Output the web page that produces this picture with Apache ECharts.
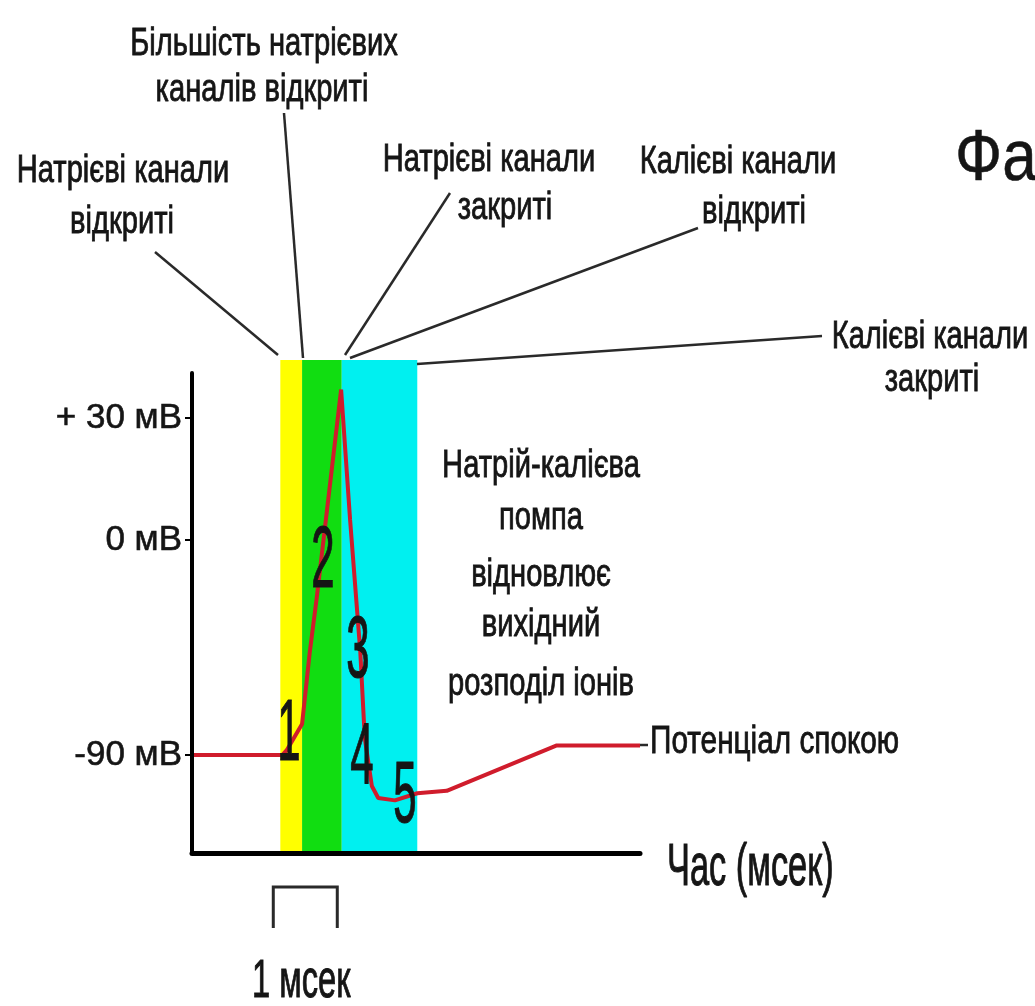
<!DOCTYPE html>
<html>
<head>
<meta charset="utf-8">
<script src="https://cdn.jsdelivr.net/npm/echarts/dist/echarts.min.js"></script>
<style>
html,body{margin:0;padding:0;background:#fff;}
#c{width:1035px;height:1006px;}
</style>
</head>
<body>
<div id="c"></div>
<script>
// ---- data ----
const timeMs = [0, 1.41, 1.48, 1.72, 1.84, 1.95, 2.33, 2.47, 2.63, 2.70, 2.81, 2.91, 3.17, 3.52, 3.98, 5.70, 7.00];
const potentialMv = [-90, -90, -88, -77, -47, -24, 37, 5, -47, -83, -103, -108, -109, -106, -105, -86, -86];
const phaseStartMs = [1.38, 1.72, 2.34];
const phaseEndMs = [1.72, 2.34, 3.52];
const phaseColors = ['#ffff00', '#11dd11', '#00f0f0'];
const tickMv = [30, 0, -90];
const tickLabels = ['+ 30 мВ', '0 мВ', '-90 мВ'];
const phaseNumbers = ['1', '2', '3', '4', '5'];
const bracketStartMs = 1.27;
const bracketLenMs = 1;

// schematic (non-linear) voltage scale of the drawing: positive and negative parts differ
const POS_UNITS_PER_MV = 122 / 30;
const NEG_UNITS_PER_MV = 215 / 90;
function mvToAxis(v) { return v >= 0 ? v * POS_UNITS_PER_MV : v * NEG_UNITS_PER_MV; }

const lineData = timeMs.map((t, i) => [t, mvToAxis(potentialMv[i])]);
const tickAxis = tickMv.map(mvToAxis);
const labelFor = {};
tickMv.forEach((v, i) => { labelFor[Math.round(mvToAxis(v))] = tickLabels[i]; });

const FONT = "'Liberation Sans', Arial, sans-serif";
const chart = echarts.init(document.getElementById('c'), null, {renderer: 'canvas'});

const Y_MIN = -313;
chart.setOption({
  animation: false,
  backgroundColor: '#ffffff',
  grid: [
    {left: 192, right: 395, top: 360, bottom: 153},
    {left: 192, right: 395, top: 373, bottom: 153}
  ],
  xAxis: [
    {gridIndex: 0, type: 'value', min: 0, max: 7, show: false},
    {gridIndex: 1, type: 'value', min: 0, max: 7, z: 10,
     axisLine: {show: true, onZero: false, lineStyle: {color: '#000', width: 5}},
     axisTick: {show: false}, axisLabel: {show: false}, splitLine: {show: false}}
  ],
  yAxis: [
    {gridIndex: 0, type: 'value', min: Y_MIN, max: 180, show: false},
    {gridIndex: 1, type: 'value', min: Y_MIN, max: 167, z: 10,
     axisLine: {show: true, lineStyle: {color: '#000', width: 4}},
     axisTick: {show: true, customValues: tickAxis, length: 7, lineStyle: {color: '#000', width: 2}},
     axisLabel: {show: true, customValues: tickAxis, margin: 10, color: '#151515',
       fontFamily: FONT, fontSize: 35, textBorderColor: '#151515', textBorderWidth: 0.6,
       formatter: v => labelFor[Math.round(v)] || ''},
     splitLine: {show: false}}
  ],
  series: [
    {type: 'line', xAxisIndex: 0, yAxisIndex: 0, data: [], z: 1,
     markArea: {silent: true,
       data: phaseStartMs.map((s, i) => [
         {xAxis: s, yAxis: Y_MIN, itemStyle: {color: phaseColors[i], opacity: 1}},
         {xAxis: phaseEndMs[i], yAxis: 180}
       ])}},
    {type: 'line', xAxisIndex: 1, yAxisIndex: 1, data: lineData, symbol: 'none', z: 5,
     lineStyle: {color: '#d01c2c', width: 4}, clip: false}
  ]
});

// annotation graphics
const bx0 = chart.convertToPixel({xAxisIndex: 1}, bracketStartMs);
const bx1 = chart.convertToPixel({xAxisIndex: 1}, bracketStartMs + bracketLenMs);

function txt(text, x, y, size, opts) {
  opts = opts || {};
  return {type: 'text', x: x, y: y, z: 20,
    scaleX: opts.sx || 1, scaleY: opts.sy || 1,
    style: {text: text, fill: '#151515', stroke: '#151515', lineWidth: opts.lw == null ? 0.7 : opts.lw,
      font: 'normal ' + size + 'px ' + FONT,
      align: opts.align || 'center', verticalAlign: 'middle'}};
}
function seg(x1, y1, x2, y2) {
  return {type: 'line', z: 15, shape: {x1: x1, y1: y1, x2: x2, y2: y2},
    style: {stroke: '#2a2a2a', lineWidth: 2.5}};
}

const S = 32;
const L = {sy: 1.2, sx: 0.91};
const g = [
  txt('Більшість натрієвих', 264, 44, S, L),
  txt('каналів відкриті', 262, 90, S, L),
  txt('Натрієві канали', 123, 171, S, L),
  txt('відкриті', 122, 222, S, L),
  txt('Натрієві канали', 489, 160, S, L),
  txt('закриті', 505, 208, S, L),
  txt('Калієві канали', 738, 162, S, L),
  txt('відкриті', 754, 212, S, L),
  txt('Калієві канали', 930, 337, S, L),
  txt('закриті', 932, 380, S, L),
  txt('Фа', 955, 160, 62, {align: 'left', sy: 1.15, lw: 0.5}),
  txt('Натрій-калієва', 541, 466, S, L),
  txt('помпа', 541, 518, S, L),
  txt('відновлює', 541, 575, S, L),
  txt('вихідний', 541, 625, S, L),
  txt('розподіл іонів', 541, 684, S, L),
  txt('Потенціал спокою', 650, 742, S, {align: 'left', sy: 1.2, sx: 0.93}),
  txt('Час (мсек)', 667, 868, 40, {align: 'left', sy: 1.5, sx: 0.86}),
  txt('1 мсек', (bx0 + bx1) / 2 - 4, 982, 38, {sy: 1.4, sx: 0.86}),
  // phase numbers
  txt(phaseNumbers[0], 289, 736, 56, {sy: 1.55, sx: 0.75}),
  txt(phaseNumbers[1], 323, 563, 56, {sy: 1.55, sx: 0.75}),
  txt(phaseNumbers[2], 358, 653, 56, {sy: 1.55, sx: 0.75}),
  txt(phaseNumbers[3], 362, 760, 56, {sy: 1.55, sx: 0.75}),
  txt(phaseNumbers[4], 405, 798, 56, {sy: 1.55, sx: 0.75}),
  // leader lines
  seg(155, 252, 278, 355),
  seg(284, 113, 303, 358),
  seg(450, 193, 345, 355),
  seg(698, 228, 350, 358),
  seg(417, 364, 822, 336),
  seg(640, 745, 648, 745),
  // 1 ms bracket
  {type: 'polyline', z: 15, shape: {points: [[bx0, 928], [bx0, 887], [bx1, 887], [bx1, 928]]},
   style: {stroke: '#2a2a2a', lineWidth: 3, fill: null}}
];
chart.setOption({graphic: g});
</script>
</body>
</html>
